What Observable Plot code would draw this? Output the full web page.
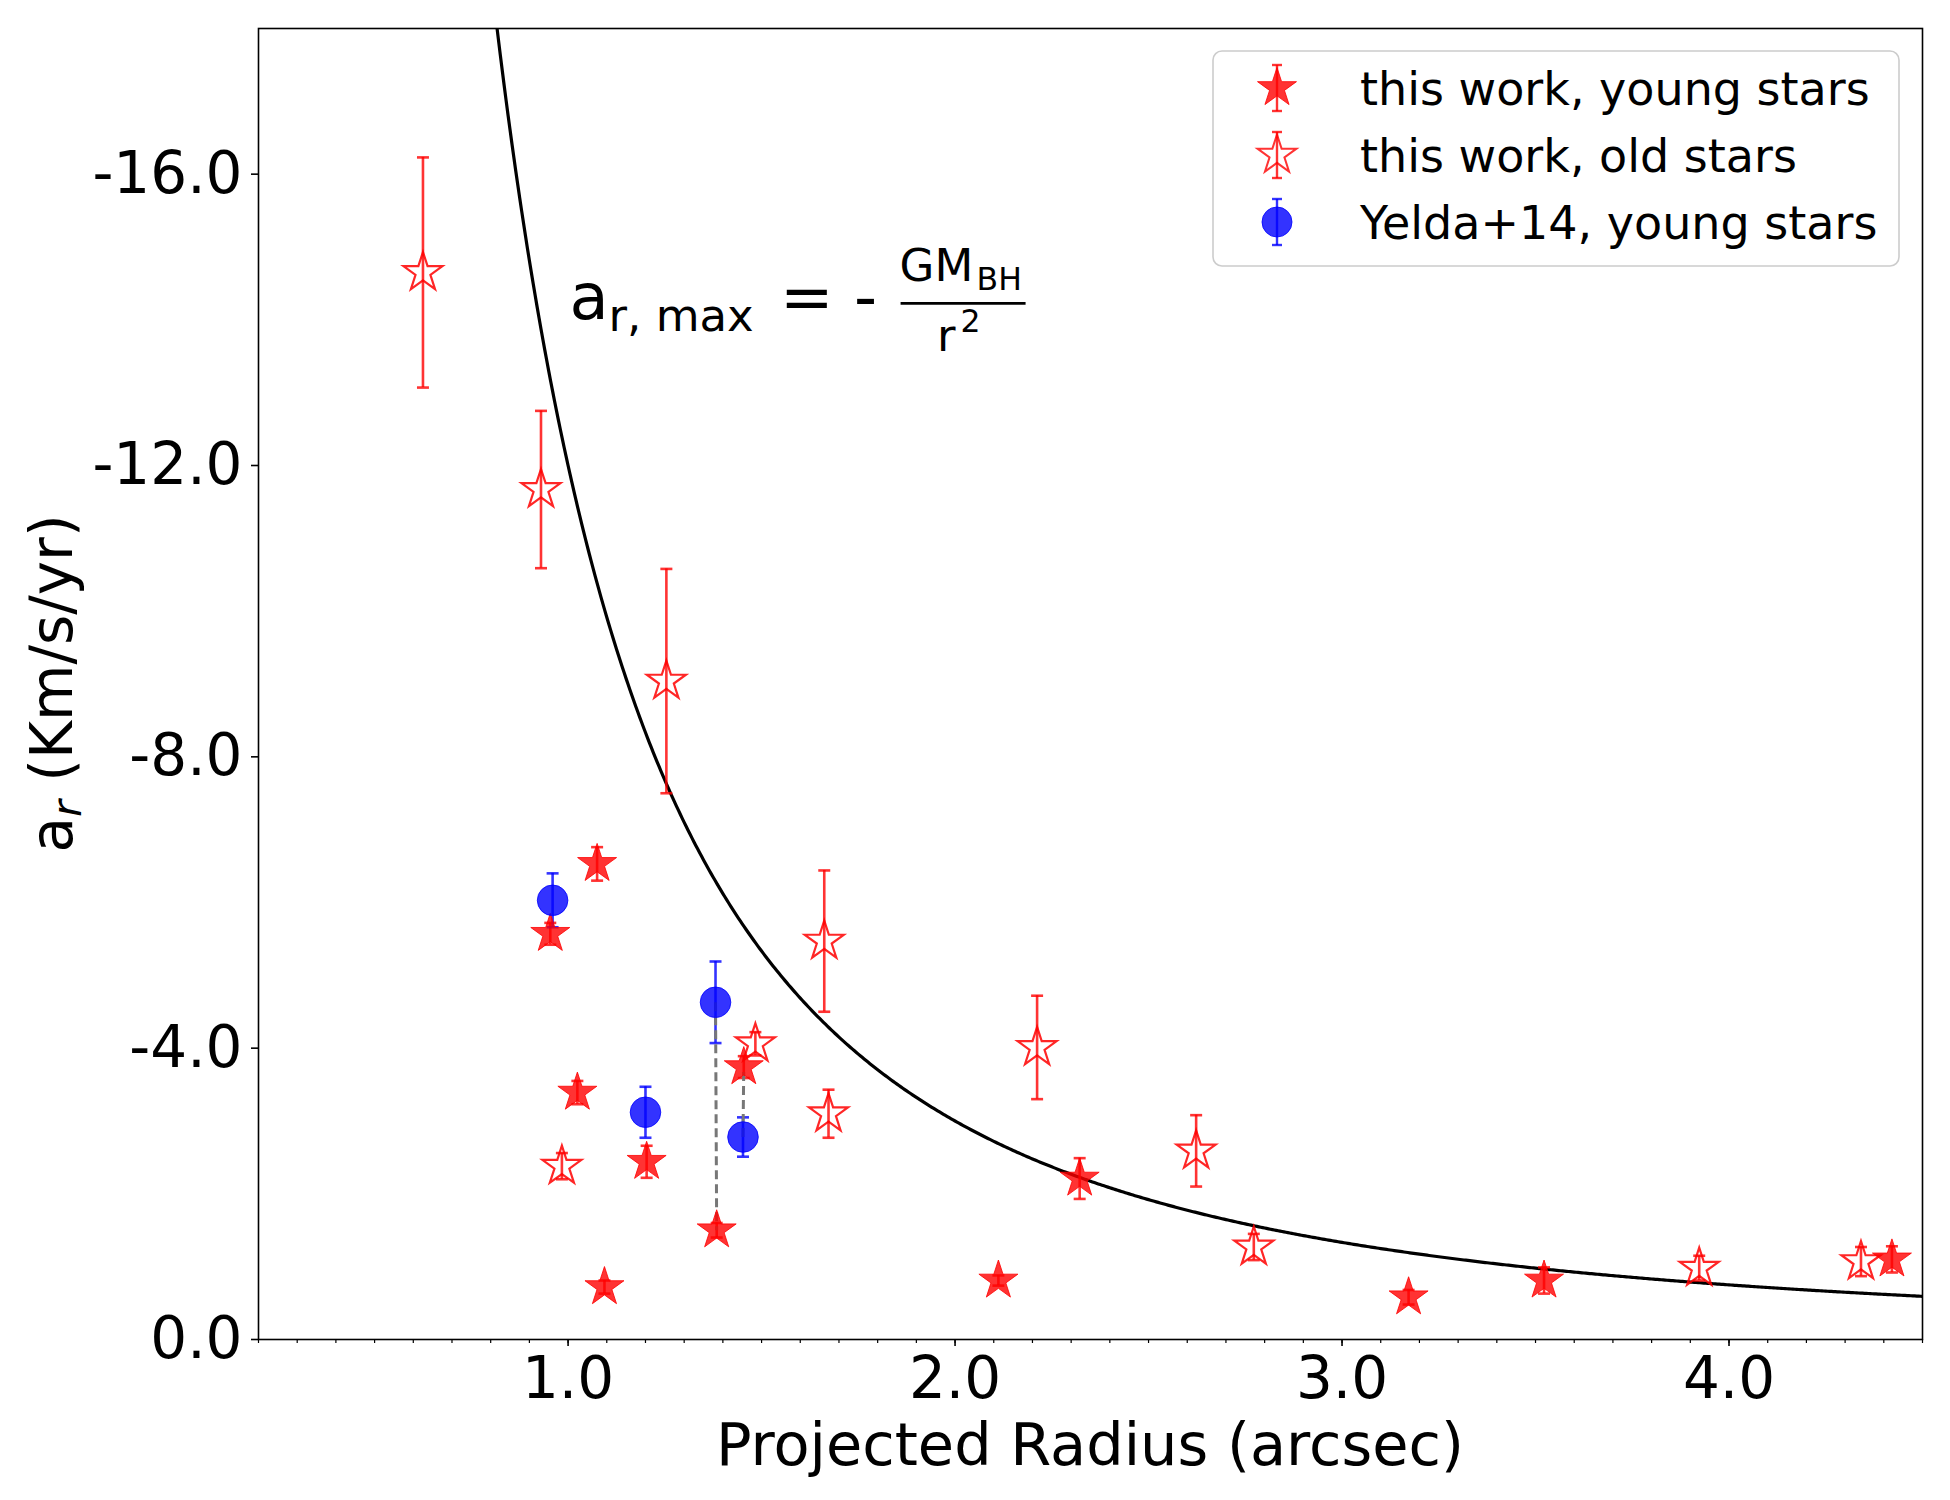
<!DOCTYPE html>
<html>
<head>
<meta charset="utf-8">
<script src="https://cdn.jsdelivr.net/npm/d3@7"></script>
<script src="https://cdn.jsdelivr.net/npm/@observablehq/plot@0.6"></script>
<style>
  html, body { margin: 0; padding: 0; background: #ffffff; }
  #chart { width: 1950px; height: 1500px; }
</style>
</head>
<body>
<div id="chart"></div>
<script>
// Radial acceleration of stars against projected distance from the black hole.

// This work, young stars: projected radius (arcsec), a_r (km/s/yr), 1σ error
const youngR   = [1.075, 0.954, 1.024, 1.203, 1.384, 1.454, 1.094, 2.112, 2.322, 3.172, 3.522, 4.421];
const youngA   = [-6.53, -5.57, -3.39, -2.44, -1.50, -3.74, -0.72, -0.81, -2.21, -0.58, -0.81, -1.10];
const youngErr = [0.23, 0.15, 0.16, 0.22, 0.10, 0.15, 0.09, 0.07, 0.28, 0.10, 0.18, 0.18];

// This work, old stars
const oldR   = [0.625, 0.930, 1.254, 1.662, 1.673, 1.484, 0.984, 2.212, 2.623, 2.772, 3.923, 4.341];
const oldA   = [-14.65, -11.67, -9.04, -5.47, -3.10, -4.06, -2.38, -4.01, -2.59, -1.27, -0.98, -1.07];
const oldErr = [1.58, 1.08, 1.54, 0.97, 0.33, 0.16, 0.18, 0.71, 0.49, 0.18, 0.17, 0.20];

// Yelda+14, young stars
const yeldaR   = [0.960, 1.381, 1.200, 1.452];
const yeldaA   = [-6.03, -4.63, -3.12, -2.78];
const yeldaErr = [0.37, 0.56, 0.35, 0.27];

// Stars present in both samples: [Yelda+14 index, this-work young index]
const samePairs = [[1, 4], [3, 5]];

// Maximum radial acceleration a_r,max = -GM_BH / r^2
const GM_BH = 12.0;                 // (km/s/yr)·arcsec²
const rStart = 0.78, rEnd = 4.5, rStep = 0.005;

// Axes
const xDomain = [0.2, 4.5];
const yDomain = [0, -18];
const xMajorTicks = [1, 2, 3, 4];
const yMajorTicks = [0, -4, -8, -12, -16];
const xLabel = "Projected Radius (arcsec)";
const legendLabels = ["this work, young stars", "this work, old stars", "Yelda+14, young stars"];
const formulaAt = {r: 1.0, a: -14.0};

// ---------------------------------------------------------------------------
const rows = (R, A, E) => R.map((r, i) => ({r, a: A[i], e: E[i]}));
const young = rows(youngR, youngA, youngErr);
const old = rows(oldR, oldA, oldErr);
const yelda = rows(yeldaR, yeldaA, yeldaErr);
const curve = d3.range(rStart, rEnd + rStep / 2, rStep).map(r => ({r, a: -GM_BH / (r * r)}));
const xMinorTicks = d3.range(2, 46).map(i => i / 10);

const RED = "#ff0000", BLUE = "#0000ff";

// five-pointed star, outer radius = sqrt(size/π)
const starSymbol = {
  draw(ctx, size) {
    const R = Math.sqrt(size / Math.PI), r = R * 0.381966;
    for (let k = 0; k < 10; k++) {
      const rad = k % 2 ? r : R;
      const ang = -Math.PI / 2 + k * Math.PI / 5;
      const px = rad * Math.cos(ang), py = rad * Math.sin(ang);
      k ? ctx.lineTo(px, py) : ctx.moveTo(px, py);
    }
    ctx.closePath();
  }
};
// horizontal error-bar cap, half-width = sqrt(size/π)
const capSymbol = {
  draw(ctx, size) {
    const w = Math.sqrt(size / Math.PI);
    ctx.moveTo(-w, 0);
    ctx.lineTo(w, 0);
  }
};

function errorBars(data, color, opacity) {
  const common = {stroke: color, strokeOpacity: opacity, strokeWidth: 2.6};
  return [
    Plot.ruleX(data, {x: "r", y1: d => d.a - d.e, y2: d => d.a + d.e, ...common}),
    Plot.dot(data, {x: "r", y: d => d.a - d.e, symbol: capSymbol, r: 6, fill: "none", ...common}),
    Plot.dot(data, {x: "r", y: d => d.a + d.e, symbol: capSymbol, r: 6, fill: "none", ...common})
  ];
}

// a_r,max = - GM_BH / r²  written next to the curve
function formulaMark(index, {x, y}) {
  const g = d3.create("svg:g").attr("font-family", "DejaVu Sans").attr("fill", "black")
    .attr("text-anchor", "start");
  const x0 = x(formulaAt.r), y0 = y(formulaAt.a);
  const put = (t, dx, dy, size) =>
    g.append("text").attr("x", x0 + dx).attr("y", y0 + dy).attr("font-size", size)
      .attr("text-anchor", "start").text(t);
  put("a", 2, 0, 64);
  put("r, max", 41, 11.5, 45);
  put("=", 212.5, 0, 64);
  put("-", 286.5, 0, 64);
  g.append("line").attr("x1", x0 + 333).attr("x2", x0 + 458)
    .attr("y1", y0 - 16).attr("y2", y0 - 16).attr("stroke", "black").attr("stroke-width", 2.7);
  put("GM", 332, -38.5, 45);
  put("BH", 409, -29.5, 31.5);
  put("r", 369.5, 31.5, 45);
  put("2", 393, 13, 31.5);
  return g.node();
}

// axis titles
function axisTitles(index, scales, values, dims) {
  const g = d3.create("svg:g").attr("font-family", "DejaVu Sans").attr("fill", "black");
  const cx = (dims.marginLeft + dims.width - dims.marginRight) / 2;
  const cy = (dims.marginTop + dims.height - dims.marginBottom) / 2;
  g.append("text").attr("x", cx).attr("y", dims.height - dims.marginBottom + 126)
    .attr("text-anchor", "middle").attr("font-size", 59).text(xLabel);
  const t = g.append("text").attr("transform", `translate(72,${cy}) rotate(-90)`)
    .attr("text-anchor", "middle").attr("font-size", 58);
  t.append("tspan").text("a");
  t.append("tspan").attr("font-style", "italic").attr("font-size", 41).attr("dy", 9).text("r");
  t.append("tspan").attr("dy", -9).text(" (Km/s/yr)");
  return g.node();
}

// legend box in the upper-right corner
function legendMark(index, scales, values, dims) {
  const bw = 686, bh = 215;
  const left = dims.width - dims.marginRight - 23 - bw;
  const top = dims.marginTop + 23;
  const g = d3.create("svg:g").attr("font-family", "DejaVu Sans").attr("text-anchor", "start");
  g.append("rect").attr("x", left).attr("y", top).attr("width", bw).attr("height", bh)
    .attr("rx", 9).attr("fill", "white").attr("fill-opacity", 0.8)
    .attr("stroke", "#cccccc").attr("stroke-width", 1.6);
  const styles = [
    {color: RED, marker: "star", filled: true},
    {color: RED, marker: "star", filled: false},
    {color: BLUE, marker: "circle", filled: true}
  ];
  styles.forEach((s, i) => {
    const hx = left + 64, hy = top + 37 + 67 * i;
    const h = g.append("g").attr("stroke", s.color).attr("stroke-opacity", 0.8);
    h.append("line").attr("x1", hx).attr("x2", hx).attr("y1", hy - 23).attr("y2", hy + 23).attr("stroke-width", 2.4);
    [-23, 23].forEach(o => h.append("line").attr("x1", hx - 5).attr("x2", hx + 5)
      .attr("y1", hy + o).attr("y2", hy + o).attr("stroke-width", 2.4));
    if (s.marker === "star") {
      const p = d3.path();
      starSymbol.draw(p, Math.PI * 20.5 * 20.5);
      h.append("path").attr("d", p.toString()).attr("transform", `translate(${hx},${hy})`)
        .attr("fill", s.filled ? s.color : "none").attr("fill-opacity", 0.8)
        .attr("stroke-width", s.filled ? 1 : 2);
    } else {
      h.append("circle").attr("cx", hx).attr("cy", hy).attr("r", 15)
        .attr("fill", s.color).attr("fill-opacity", 0.8).attr("stroke-width", 1);
    }
    g.append("text").attr("x", left + 147).attr("y", top + 54 + 67 * i)
      .attr("text-anchor", "start").attr("font-size", 46).attr("fill", "black").text(legendLabels[i]);
  });
  return g.node();
}

const chart = Plot.plot({
  width: 1950,
  height: 1500,
  marginTop: 28,
  marginRight: 28,
  marginBottom: 161,
  marginLeft: 258,
  style: {fontFamily: "DejaVu Sans", background: "white", color: "black"},
  x: {domain: xDomain},
  y: {domain: yDomain},
  marks: [
    Plot.axisX(xMinorTicks, {tickSize: 4, text: null, label: null, strokeWidth: 1.2}),
    Plot.axisX(xMajorTicks, {tickSize: 7, tickPadding: 10, tickFormat: d => d.toFixed(1),
      fontSize: 58, label: null, strokeWidth: 1.6}),
    Plot.axisY(yMajorTicks, {tickSize: 7, tickPadding: 9, tickFormat: d => d.toFixed(1),
      fontSize: 58, label: null, strokeWidth: 1.6}),
    Plot.line(curve, {x: "r", y: "a", stroke: "black", strokeWidth: 3.2, clip: true}),
    ...errorBars(young, RED, 0.8),
    ...errorBars(old, RED, 0.8),
    ...errorBars(yelda, BLUE, 0.8),
    Plot.link(samePairs, {
      x1: ([i]) => yeldaR[i], y1: ([i]) => yeldaA[i],
      x2: ([, j]) => youngR[j], y2: ([, j]) => youngA[j],
      stroke: "#777777", strokeWidth: 3, strokeDasharray: "9,5"
    }),
    Plot.dot(old, {x: "r", y: "a", symbol: starSymbol, r: 20.5, fill: "none",
      stroke: RED, strokeOpacity: 0.85, strokeWidth: 2.2}),
    Plot.dot(young, {x: "r", y: "a", symbol: starSymbol, r: 20.5, fill: RED, fillOpacity: 0.8,
      stroke: RED, strokeOpacity: 0.8, strokeWidth: 1}),
    Plot.dot(yelda, {x: "r", y: "a", symbol: "circle", r: 15.3, fill: BLUE, fillOpacity: 0.8,
      stroke: BLUE, strokeOpacity: 0.8, strokeWidth: 1}),
    Plot.frame({stroke: "black", strokeWidth: 1.6}),
    formulaMark,
    axisTitles,
    legendMark
  ]
});

document.getElementById("chart").appendChild(chart);
</script>
</body>
</html>
